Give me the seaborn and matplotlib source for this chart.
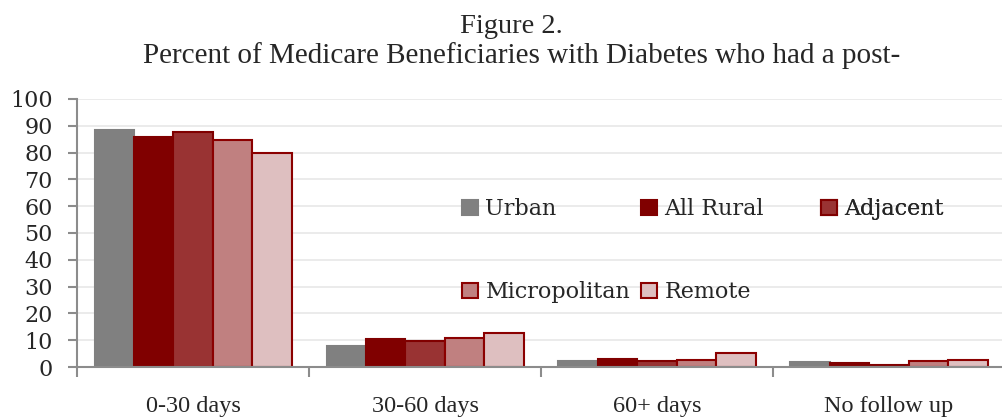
import numpy as np
import pandas as pd
import matplotlib
matplotlib.use("Agg")
import matplotlib.pyplot as plt
import seaborn as sns

# Data
periods = ["0-30 days", "30-60 days", "60+ days", "No follow up"]
groups = ["Urban", "All Rural", "Adjacent", "Micropolitan", "Remote"]
urban = [88.3, 7.8, 2.2, 1.8]
all_rural = [85.8, 10.6, 3.0, 1.6]
adjacent = [87.6, 9.6, 2.3, 0.9]
micropolitan = [84.8, 10.9, 2.6, 2.2]
remote = [79.8, 12.8, 5.3, 2.6]

fill_colors = ["#808080", "#800000", "#993333", "#C08080", "#DEBFC0"]
edge_colors = ["#808080", "#800000", "#800000", "#8B0000", "#8B0000"]

# long table for seaborn
rows = []
for g, vals in zip(groups, [urban, all_rural, adjacent, micropolitan, remote]):
    for p, v in zip(periods, vals):
        rows.append({"Period": p, "Group": g, "Percent": v})
frame = pd.DataFrame(rows)

sns.set_style("white")
plt.rcParams["font.family"] = ["DejaVu Serif"]

fig = plt.figure(figsize=(10.02, 4.19), dpi=100)
ax = fig.add_axes([0.077, 0.124, 0.926, 0.640])

sns.barplot(data=frame, x="Period", y="Percent", hue="Group", order=periods,
            hue_order=groups, palette=fill_colors, width=0.85, gap=0,
            saturation=1, ax=ax, legend=True)

for cont, ec in zip(ax.containers, edge_colors):
    for bar in cont:
        bar.set_edgecolor(ec)
        bar.set_linewidth(1.5)

ax.set_ylim(0, 100)
ax.set_xlim(-0.5, 3.5)
ax.set_yticks(np.arange(0, 101, 10))
ax.yaxis.grid(True, color="#E8E8E8", linewidth=1.2)
ax.set_axisbelow(True)
ax.set_xlabel("")
ax.set_ylabel("")

for side in ["top", "right"]:
    ax.spines[side].set_visible(False)
for side in ["left", "bottom"]:
    ax.spines[side].set_color("#8C8C8C")
    ax.spines[side].set_linewidth(1.5)

ax.tick_params(axis="y", direction="out", length=6.5, width=1.5, color="#8C8C8C",
               labelsize=16, pad=11, left=True)
ax.set_xticks(np.arange(-0.5, 3.6, 1), minor=True)
ax.tick_params(axis="x", which="minor", direction="out", length=7, width=1.5,
               color="#8C8C8C", bottom=True)
ax.tick_params(axis="x", which="major", length=0, pad=21)
for lbl in ax.get_xticklabels():
    lbl.set_family("Liberation Serif")
    lbl.set_fontsize(17.5)

# legend in Excel row order, one legend per column
handles, labels = ax.get_legend_handles_labels()
ax.get_legend().remove()
for h, ec in zip(handles, edge_colors):
    h.set_edgecolor(ec)
    h.set_linewidth(1.5)
cols = [[0, 3], [1, 4], [2]]
xs = [451, 630, 810]
for idx, x in zip(cols, xs):
    leg = ax.legend([handles[i] for i in idx], [labels[i] for i in idx],
                    loc="upper left", bbox_to_anchor=(x / 1002, 1 - 187 / 419),
                    bbox_transform=fig.transFigure, frameon=False,
                    fontsize=16, handlelength=0.7, handleheight=0.7,
                    handletextpad=0.35, labelspacing=2.75, borderpad=0)
    ax.add_artist(leg)

fig.text(0.51, 1 - 33 / 419, "Figure 2.", ha="center", va="baseline",
         fontsize=20.5, family="Liberation Serif")
fig.text(0.521, 1 - 63 / 419,
         "Percent of Medicare Beneficiaries with Diabetes who had a post-",
         ha="center", va="baseline", fontsize=21, family="Liberation Serif")

fig.savefig("out.png", dpi=100)
